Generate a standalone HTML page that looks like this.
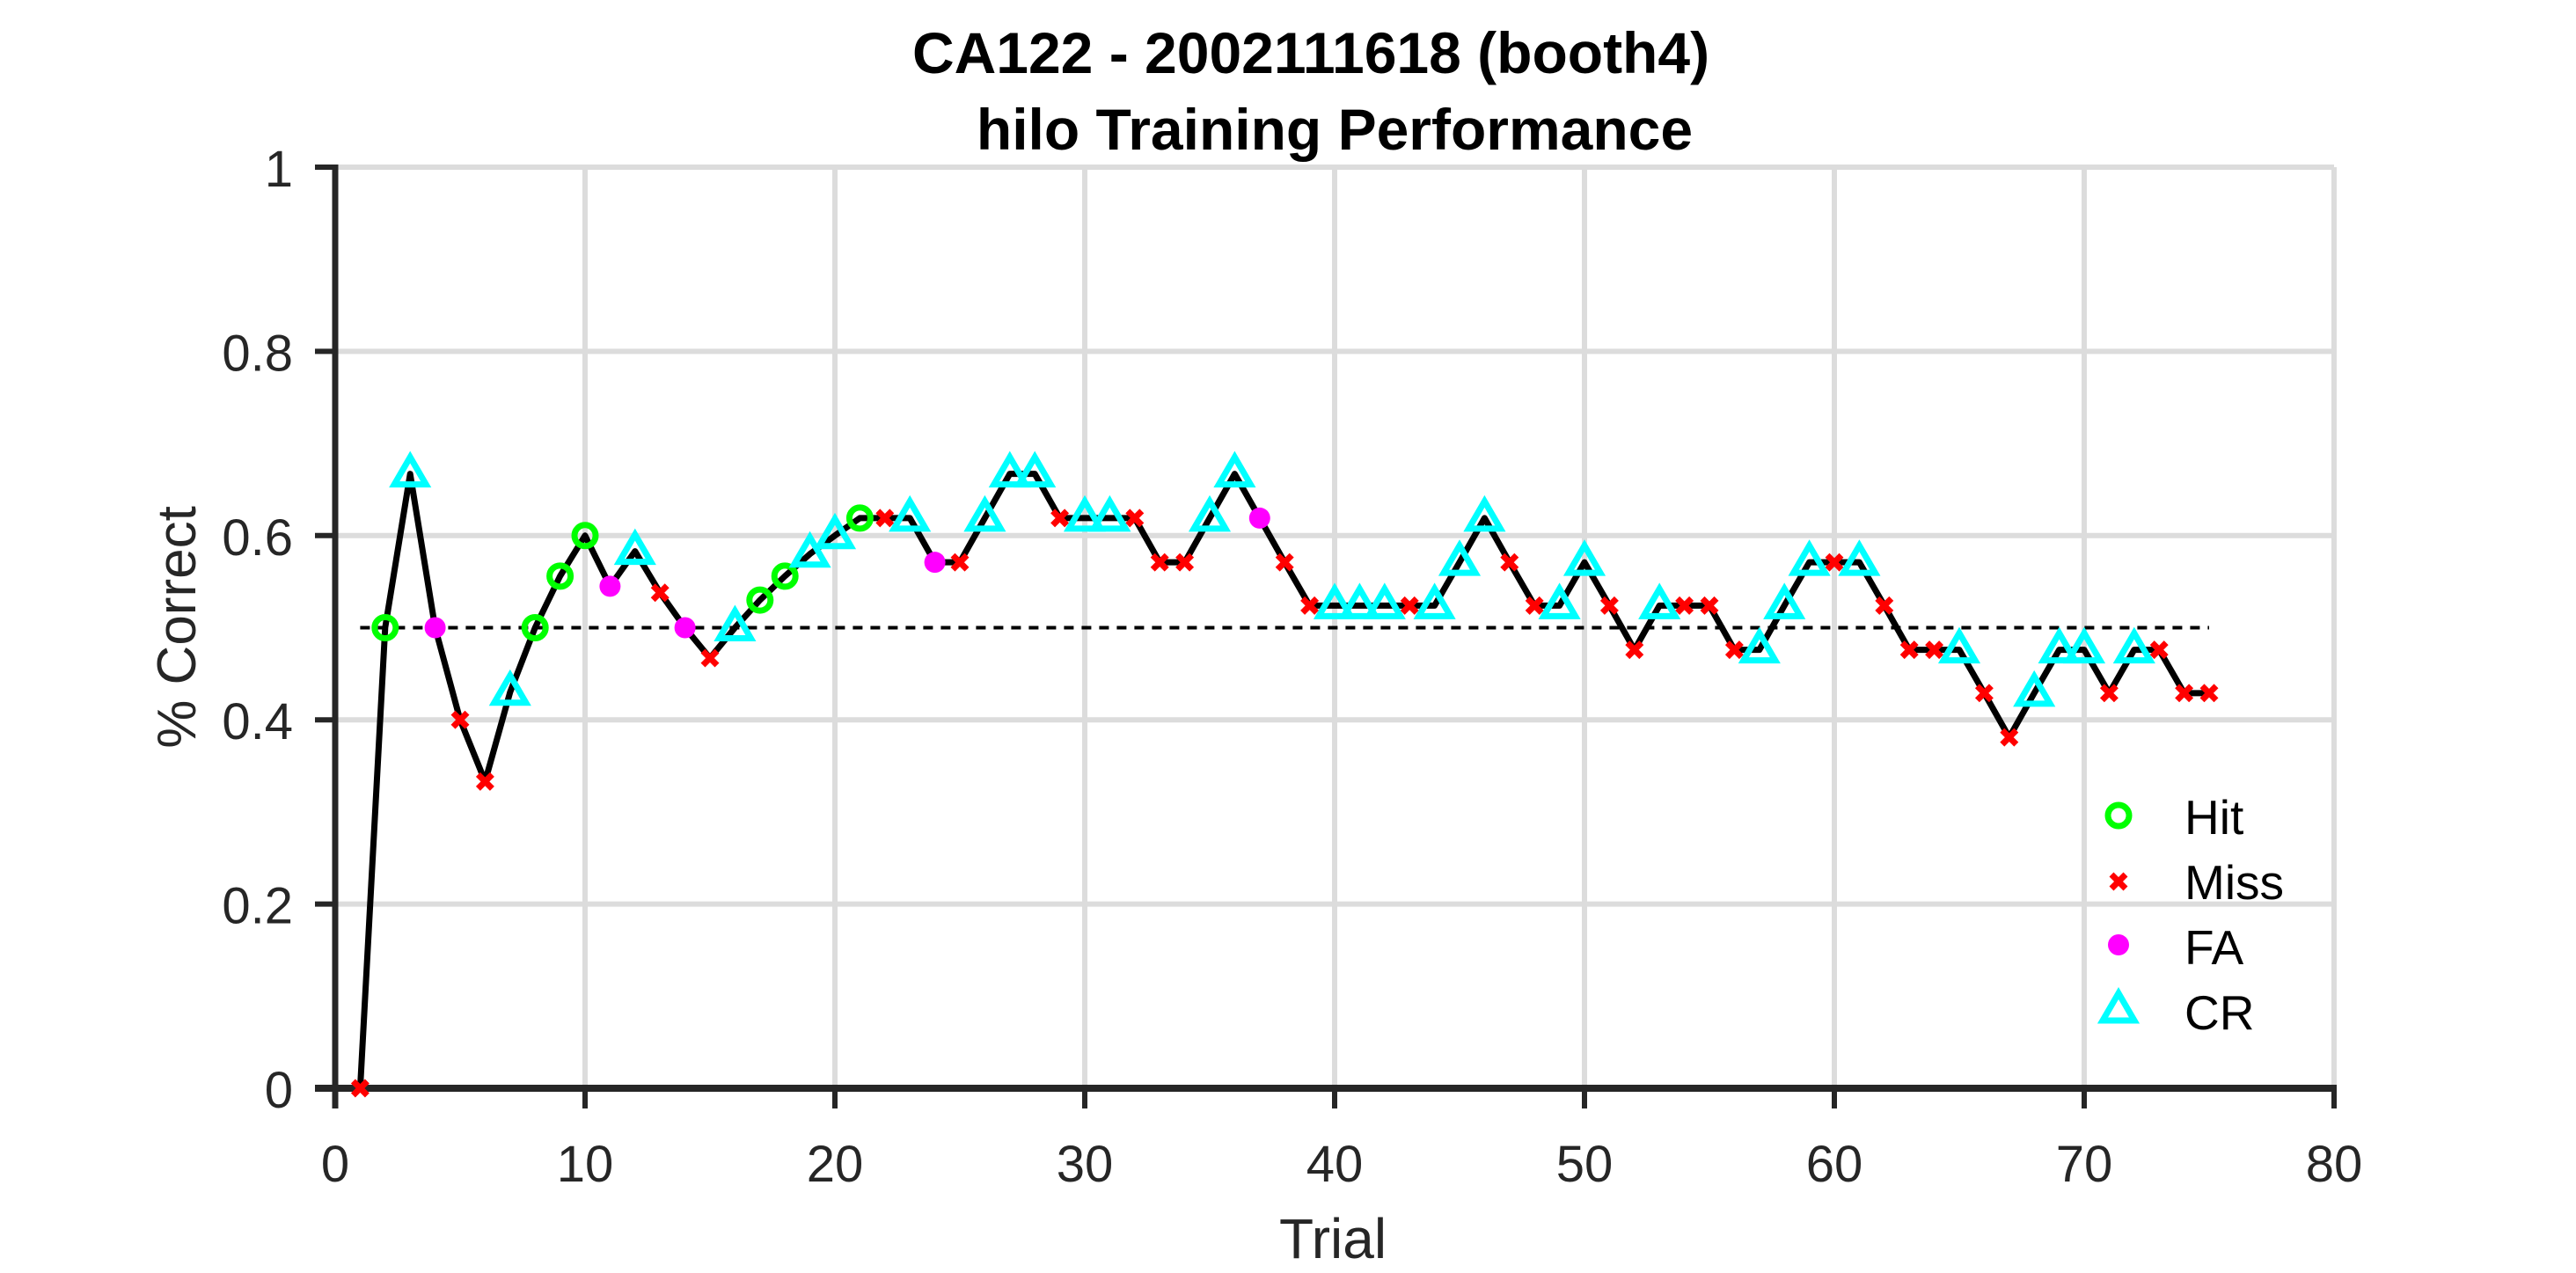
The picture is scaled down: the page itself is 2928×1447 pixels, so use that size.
<!DOCTYPE html>
<html><head><meta charset="utf-8">
<style>html,body{margin:0;padding:0;background:#fff;}svg{display:block;}text{font-family:"Liberation Sans",Arial,sans-serif;}</style>
</head><body>
<svg id="chart" width="2928" height="1447" viewBox="0 0 2928 1447" xmlns="http://www.w3.org/2000/svg">
<rect width="2928" height="1447" fill="#fff"/>
<text x="1490" y="83" text-anchor="middle" font-size="66" font-weight="bold" fill="#000">CA122 - 2002111618 (booth4)</text>
<text x="1517" y="170" text-anchor="middle" font-size="66" font-weight="bold" fill="#000">hilo Training Performance</text>
<g id="grid"></g>
<g id="axes"></g>
<g id="series"></g>
<text x="1515" y="1430" text-anchor="middle" font-size="64" fill="#262626">Trial</text>
<text transform="translate(222,713) rotate(-90)" text-anchor="middle" font-size="62" fill="#262626">% Correct</text>
<g id="legend"></g>
</svg>
<script>
const trials = [];
for (let i = 1; i <= 75; i++) trials.push(i);
const outcomes = ["M","H","CR","FA","M","M","CR","H","H","H","FA","CR","M","FA","M","CR","H","H","CR","CR","H","M","CR","FA","M","CR","CR","CR","M","CR","CR","M","M","M","CR","CR","FA","M","M","CR","CR","CR","M","CR","CR","CR","M","M","CR","CR","M","M","CR","M","M","M","CR","CR","CR","M","CR","M","M","M","CR","M","M","CR","CR","CR","M","CR","M","M","M"];
const values = [0,.5,.667,.5,.4,.333,.43,.5,.556,.6,.545,.583,.538,.5,.467,.5,.53,.556,.58,.6,.619,.619,.619,.571,.571,.619,.667,.667,.619,.619,.619,.619,.571,.571,.619,.667,.619,.571,.524,.524,.524,.524,.524,.524,.571,.619,.571,.524,.524,.571,.524,.476,.524,.524,.524,.476,.476,.524,.571,.571,.571,.524,.476,.476,.476,.429,.381,.429,.476,.476,.429,.476,.476,.429,.429];
const xTicks = [0,10,20,30,40,50,60,70,80];
const yTicks = [0,0.2,0.4,0.6,0.8,1];
const yTickLabels = ["0","0.2","0.4","0.6","0.8","1"];
const chance = 0.5;

const L=381,R=2653,T=190,B=1237;
const xs=v=>L+(v-0)/(80-0)*(R-L);
const ys=v=>B-(v-0)/(1-0)*(B-T);
const NS="http://www.w3.org/2000/svg";
function mk(tag,attrs,parent){const e=document.createElementNS(NS,tag);for(const k in attrs)e.setAttribute(k,attrs[k]);parent.appendChild(e);return e;}
const grid=document.getElementById('grid'),axes=document.getElementById('axes'),series=document.getElementById('series'),legend=document.getElementById('legend');

xTicks.forEach(t=>{
  if(t>0){const g=mk('line',{x1:xs(t),x2:xs(t),y1:T,y2:B,stroke:'#dcdcdc','stroke-width':6},grid);
  
  }
  const tk=mk('line',{x1:xs(t),x2:xs(t),y1:B,y2:B+23,stroke:'#262626','stroke-width':6},axes);
  
  
  const lb=mk('text',{x:xs(t),y:1343,'text-anchor':'middle','font-size':58,fill:'#262626'},axes);lb.textContent=t;
  
  
});
yTicks.forEach((t,i)=>{
  if(t>0){const g=mk('line',{x1:L,x2:R,y1:ys(t),y2:ys(t),stroke:'#dcdcdc','stroke-width':6},grid);
  
  }
  const tk=mk('line',{x1:L-23,x2:L,y1:ys(t),y2:ys(t),stroke:'#262626','stroke-width':6},axes);
  
  
  const lb=mk('text',{x:333,y:ys(t)+22,'text-anchor':'end','font-size':58,fill:'#262626'},axes);lb.textContent=yTickLabels[i];
  
  
});
const xa=mk('line',{x1:L-23,x2:R+3,y1:B,y2:B,stroke:'#262626','stroke-width':8},axes);


const ya=mk('line',{x1:L,x2:L,y1:T-3,y2:B+23,stroke:'#262626','stroke-width':7},axes);



const ch=mk('line',{x1:xs(trials[0]),x2:xs(trials[trials.length-1]),y1:ys(chance),y2:ys(chance),stroke:'#000','stroke-width':4,'stroke-dasharray':'11 9'},series);


const pl=mk('polyline',{points:trials.map((t,i)=>xs(t)+','+ys(values[i])).join(' '),fill:'none',stroke:'#000','stroke-width':7,'stroke-linejoin':'round'},series);



function marker(type,x,y,parent){
  let e;
  if(type==='H') e=mk('circle',{cx:x,cy:y,r:12,fill:'none',stroke:'#00ff00','stroke-width':7},parent);
  else if(type==='FA') e=mk('circle',{cx:x,cy:y,r:12,fill:'#ff00ff'},parent);
  else if(type==='CR') e=mk('polygon',{points:`${x},${y-19} ${x-18},${y+12} ${x+18},${y+12}`,fill:'none',stroke:'#00ffff','stroke-width':7,'stroke-linejoin':'miter'},parent);
  else e=mk('path',{d:`M${x-8},${y-8}L${x+8},${y+8}M${x-8},${y+8}L${x+8},${y-8}`,stroke:'#ff0000','stroke-width':7},parent);
  return e;
}
const names={H:'hit-marker',M:'miss-marker',FA:'fa-marker',CR:'cr-marker'};
trials.forEach((t,i)=>{
  const e=marker(outcomes[i],xs(t),ys(values[i]),series);
  
  
});
const legItems=[['H','Hit',927,948],['M','Miss',1002,1022],['FA','FA',1074,1096],['CR','CR',1148,1170]];
legItems.forEach(([k,lbl,y,by])=>{
  const m=marker(k,2408,y,legend);
  
  
  const tx=mk('text',{x:2483,y:by,'font-size':55,fill:'#000'},legend);tx.textContent=lbl;
  
  
});
</script>
</body></html>
